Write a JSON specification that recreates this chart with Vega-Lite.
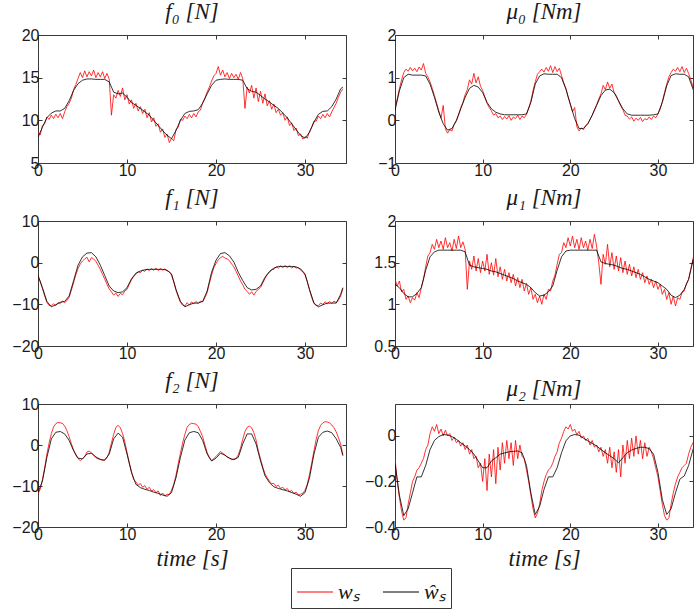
{
"$schema": "https://vega.github.io/schema/vega-lite/v6.json",
"background": "white",
"padding": {"left": 11, "top": 0, "right": 0, "bottom": 0},
"datasets": {
"red": [
{"t":0,"f0":8.6,"m0":0.28,"f1":-3.2,"m1":1.3,"f2":-11.9,"m2":-0.1},
{"t":0.25,"f0":8.3,"m0":0.5,"f1":-4.6,"m1":1.22,"f2":-10.8,"m2":-0.2},
{"t":0.5,"f0":9.4,"m0":0.74,"f1":-6.2,"m1":1.28,"f2":-8.4,"m2":-0.27},
{"t":0.75,"f0":9.6,"m0":0.95,"f1":-8.0,"m1":1.15,"f2":-5.6,"m2":-0.33},
{"t":1,"f0":10.4,"m0":1.12,"f1":-9.5,"m1":1.18,"f2":-2.2,"m2":-0.37},
{"t":1.25,"f0":10.1,"m0":1.2,"f1":-10.3,"m1":1.06,"f2":0.5,"m2":-0.36},
{"t":1.5,"f0":10.6,"m0":1.15,"f1":-10.3,"m1":1.1,"f2":2.8,"m2":-0.3},
{"t":1.75,"f0":10.2,"m0":1.24,"f1":-9.9,"m1":1.02,"f2":4.4,"m2":-0.25},
{"t":2,"f0":10.7,"m0":1.16,"f1":-10.3,"m1":1.08,"f2":5.2,"m2":-0.2},
{"t":2.25,"f0":10.3,"m0":1.22,"f1":-9.6,"m1":1.05,"f2":5.5,"m2":-0.18},
{"t":2.5,"f0":10.8,"m0":1.14,"f1":-9.8,"m1":1.14,"f2":5.4,"m2":-0.15},
{"t":2.75,"f0":10.2,"m0":1.25,"f1":-9.2,"m1":1.08,"f2":5.3,"m2":-0.14},
{"t":3,"f0":11.0,"m0":1.18,"f1":-9.6,"m1":1.2,"f2":4.6,"m2":-0.12},
{"t":3.25,"f0":11.6,"m0":1.33,"f1":-9.1,"m1":1.3,"f2":3.5,"m2":-0.1},
{"t":3.5,"f0":12.0,"m0":1.1,"f1":-8.3,"m1":1.45,"f2":2.0,"m2":-0.06},
{"t":3.75,"f0":12.6,"m0":1.02,"f1":-6.6,"m1":1.58,"f2":0.3,"m2":-0.04},
{"t":4,"f0":13.6,"m0":0.9,"f1":-4.8,"m1":1.62,"f2":-1.2,"m2":0.01},
{"t":4.25,"f0":14.2,"m0":0.75,"f1":-2.9,"m1":1.72,"f2":-2.5,"m2":0.04},
{"t":4.5,"f0":14.9,"m0":0.58,"f1":-1.4,"m1":1.66,"f2":-3.3,"m2":0.02},
{"t":4.75,"f0":15.6,"m0":0.4,"f1":-0.3,"m1":1.78,"f2":-3.8,"m2":0.05},
{"t":5,"f0":15.0,"m0":0.22,"f1":0.4,"m1":1.68,"f2":-3.3,"m2":0.01},
{"t":5.25,"f0":15.8,"m0":0.05,"f1":0.9,"m1":1.76,"f2":-2.8,"m2":0.03},
{"t":5.5,"f0":15.1,"m0":0.35,"f1":1.3,"m1":1.66,"f2":-1.7,"m2":0.0},
{"t":5.75,"f0":15.7,"m0":-0.2,"f1":0.2,"m1":1.8,"f2":-1.5,"m2":0.025},
{"t":6,"f0":15.2,"m0":-0.3,"f1":1.2,"m1":1.68,"f2":-1.9,"m2":0.0},
{"t":6.25,"f0":15.9,"m0":-0.22,"f1":0.9,"m1":1.74,"f2":-2.5,"m2":0.01},
{"t":6.5,"f0":15.0,"m0":-0.25,"f1":0.3,"m1":1.64,"f2":-3.1,"m2":-0.02},
{"t":6.75,"f0":15.6,"m0":-0.1,"f1":-0.6,"m1":1.78,"f2":-3.4,"m2":-0.005},
{"t":7,"f0":15.1,"m0":-0.02,"f1":-1.6,"m1":1.67,"f2":-3.5,"m2":-0.03},
{"t":7.25,"f0":15.7,"m0":0.12,"f1":-2.8,"m1":1.82,"f2":-3.8,"m2":-0.02},
{"t":7.5,"f0":14.9,"m0":0.3,"f1":-4.0,"m1":1.68,"f2":-3.6,"m2":-0.045},
{"t":7.75,"f0":15.5,"m0":0.42,"f1":-5.2,"m1":1.75,"f2":-3.1,"m2":-0.03},
{"t":8,"f0":14.8,"m0":0.6,"f1":-6.3,"m1":1.66,"f2":-1.8,"m2":-0.06},
{"t":8.25,"f0":10.6,"m0":0.72,"f1":-7.0,"m1":1.18,"f2":0.5,"m2":-0.04},
{"t":8.5,"f0":13.0,"m0":0.95,"f1":-7.8,"m1":1.52,"f2":2.6,"m2":-0.08},
{"t":8.75,"f0":12.6,"m0":0.85,"f1":-7.3,"m1":1.42,"f2":4.3,"m2":-0.06},
{"t":9,"f0":13.5,"m0":1.1,"f1":-8.1,"m1":1.58,"f2":4.8,"m2":-0.1},
{"t":9.25,"f0":12.8,"m0":0.88,"f1":-7.4,"m1":1.4,"f2":4.2,"m2":-0.09},
{"t":9.5,"f0":13.8,"m0":1.02,"f1":-7.7,"m1":1.55,"f2":2.8,"m2":-0.14},
{"t":9.75,"f0":12.4,"m0":0.8,"f1":-6.8,"m1":1.38,"f2":0.8,"m2":-0.12},
{"t":10,"f0":13.0,"m0":0.7,"f1":-6.4,"m1":1.52,"f2":-1.8,"m2":-0.2},
{"t":10.25,"f0":11.9,"m0":0.55,"f1":-5.2,"m1":1.4,"f2":-4.3,"m2":-0.1},
{"t":10.5,"f0":12.4,"m0":0.4,"f1":-4.1,"m1":1.6,"f2":-6.4,"m2":-0.24},
{"t":10.75,"f0":11.4,"m0":0.3,"f1":-3.3,"m1":1.36,"f2":-8.4,"m2":-0.08},
{"t":11,"f0":12.0,"m0":0.22,"f1":-2.8,"m1":1.5,"f2":-9.0,"m2":-0.18},
{"t":11.25,"f0":11.1,"m0":0.12,"f1":-2.2,"m1":1.35,"f2":-9.8,"m2":-0.06},
{"t":11.5,"f0":11.6,"m0":0.16,"f1":-2.4,"m1":1.55,"f2":-9.4,"m2":-0.21},
{"t":11.75,"f0":10.8,"m0":0.06,"f1":-1.8,"m1":1.33,"f2":-10.3,"m2":-0.05},
{"t":12,"f0":11.3,"m0":0.1,"f1":-2.1,"m1":1.45,"f2":-9.9,"m2":-0.15},
{"t":12.25,"f0":10.3,"m0":0.02,"f1":-1.5,"m1":1.3,"f2":-10.8,"m2":-0.03},
{"t":12.5,"f0":10.9,"m0":0.09,"f1":-1.9,"m1":1.42,"f2":-10.3,"m2":-0.12},
{"t":12.75,"f0":9.8,"m0":0.03,"f1":-1.4,"m1":1.28,"f2":-11.2,"m2":-0.02},
{"t":13,"f0":10.3,"m0":0.11,"f1":-1.8,"m1":1.38,"f2":-10.9,"m2":-0.1},
{"t":13.25,"f0":9.3,"m0":0.0,"f1":-1.3,"m1":1.26,"f2":-11.6,"m2":-0.03},
{"t":13.5,"f0":9.6,"m0":0.08,"f1":-1.9,"m1":1.36,"f2":-11.2,"m2":-0.13},
{"t":13.75,"f0":8.6,"m0":0.04,"f1":-1.4,"m1":1.22,"f2":-12.3,"m2":-0.02},
{"t":14,"f0":9.0,"m0":0.12,"f1":-1.8,"m1":1.32,"f2":-11.7,"m2":-0.1},
{"t":14.25,"f0":8.0,"m0":0.02,"f1":-1.5,"m1":1.2,"f2":-12.4,"m2":-0.04},
{"t":14.5,"f0":8.4,"m0":0.1,"f1":-2.0,"m1":1.3,"f2":-12.0,"m2":-0.09},
{"t":14.75,"f0":7.4,"m0":0.06,"f1":-2.2,"m1":1.16,"f2":-12.1,"m2":-0.1},
{"t":15,"f0":7.9,"m0":0.14,"f1":-3.0,"m1":1.25,"f2":-11.0,"m2":-0.15},
{"t":15.25,"f0":7.6,"m0":0.28,"f1":-4.6,"m1":1.12,"f2":-9.6,"m2":-0.2},
{"t":15.5,"f0":8.9,"m0":0.45,"f1":-6.6,"m1":1.2,"f2":-7.4,"m2":-0.26},
{"t":15.75,"f0":9.2,"m0":0.7,"f1":-8.2,"m1":1.06,"f2":-4.6,"m2":-0.32},
{"t":16,"f0":10.1,"m0":0.9,"f1":-9.5,"m1":1.12,"f2":-2.0,"m2":-0.36},
{"t":16.25,"f0":10.0,"m0":1.08,"f1":-10.2,"m1":1.02,"f2":0.5,"m2":-0.34},
{"t":16.5,"f0":10.5,"m0":1.14,"f1":-10.4,"m1":1.1,"f2":2.6,"m2":-0.3},
{"t":16.75,"f0":10.2,"m0":1.2,"f1":-9.6,"m1":1.0,"f2":4.3,"m2":-0.24},
{"t":17,"f0":10.7,"m0":1.13,"f1":-10.2,"m1":1.12,"f2":5.0,"m2":-0.2},
{"t":17.25,"f0":10.3,"m0":1.24,"f1":-9.4,"m1":1.06,"f2":5.3,"m2":-0.17},
{"t":17.5,"f0":10.8,"m0":1.15,"f1":-9.9,"m1":1.18,"f2":5.2,"m2":-0.15},
{"t":17.75,"f0":10.4,"m0":1.28,"f1":-9.3,"m1":1.16,"f2":5.1,"m2":-0.14},
{"t":18,"f0":11.0,"m0":1.12,"f1":-9.8,"m1":1.28,"f2":4.5,"m2":-0.12},
{"t":18.25,"f0":11.2,"m0":1.26,"f1":-9.2,"m1":1.35,"f2":3.3,"m2":-0.09},
{"t":18.5,"f0":12.1,"m0":1.14,"f1":-9.4,"m1":1.48,"f2":2.0,"m2":-0.07},
{"t":18.75,"f0":12.6,"m0":1.22,"f1":-8.4,"m1":1.6,"f2":0.0,"m2":-0.03},
{"t":19,"f0":13.3,"m0":1.05,"f1":-7.2,"m1":1.62,"f2":-1.8,"m2":-0.01},
{"t":19.25,"f0":13.9,"m0":0.88,"f1":-5.0,"m1":1.74,"f2":-3.1,"m2":0.02},
{"t":19.5,"f0":14.6,"m0":0.75,"f1":-3.0,"m1":1.68,"f2":-3.8,"m2":0.04},
{"t":19.75,"f0":15.2,"m0":0.55,"f1":-1.2,"m1":1.8,"f2":-3.3,"m2":0.03},
{"t":20,"f0":15.5,"m0":0.38,"f1":-0.2,"m1":1.7,"f2":-2.8,"m2":0.05},
{"t":20.25,"f0":16.3,"m0":0.2,"f1":0.7,"m1":1.82,"f2":-2.2,"m2":0.02},
{"t":20.5,"f0":15.3,"m0":0.3,"f1":1.2,"m1":1.68,"f2":-1.6,"m2":0.03},
{"t":20.75,"f0":15.9,"m0":-0.15,"f1":1.5,"m1":1.78,"f2":-2.0,"m2":0.005},
{"t":21,"f0":15.1,"m0":-0.25,"f1":1.1,"m1":1.66,"f2":-2.4,"m2":0.02},
{"t":21.25,"f0":15.6,"m0":-0.18,"f1":0.9,"m1":1.8,"f2":-3.0,"m2":-0.01},
{"t":21.5,"f0":14.9,"m0":-0.22,"f1":0.5,"m1":1.68,"f2":-3.2,"m2":0.0},
{"t":21.75,"f0":15.5,"m0":-0.12,"f1":-0.3,"m1":1.76,"f2":-3.6,"m2":-0.02},
{"t":22,"f0":15.0,"m0":-0.08,"f1":-1.0,"m1":1.65,"f2":-3.4,"m2":-0.01},
{"t":22.25,"f0":15.4,"m0":0.02,"f1":-2.1,"m1":1.78,"f2":-3.3,"m2":-0.04},
{"t":22.5,"f0":14.8,"m0":0.12,"f1":-3.2,"m1":1.67,"f2":-2.4,"m2":-0.02},
{"t":22.75,"f0":15.6,"m0":0.25,"f1":-4.4,"m1":1.84,"f2":-0.8,"m2":-0.05},
{"t":23,"f0":14.9,"m0":0.36,"f1":-5.3,"m1":1.7,"f2":1.4,"m2":-0.04},
{"t":23.25,"f0":11.4,"m0":0.5,"f1":-6.4,"m1":1.5,"f2":3.3,"m2":-0.07},
{"t":23.5,"f0":13.9,"m0":0.62,"f1":-6.9,"m1":1.24,"f2":4.3,"m2":-0.05},
{"t":23.75,"f0":13.2,"m0":0.82,"f1":-7.6,"m1":1.6,"f2":4.6,"m2":-0.09},
{"t":24,"f0":14.1,"m0":0.72,"f1":-7.0,"m1":1.48,"f2":4.2,"m2":-0.06},
{"t":24.25,"f0":12.6,"m0":0.9,"f1":-7.8,"m1":1.72,"f2":3.0,"m2":-0.12},
{"t":24.5,"f0":13.8,"m0":0.75,"f1":-6.9,"m1":1.45,"f2":1.2,"m2":-0.05},
{"t":24.75,"f0":12.2,"m0":0.85,"f1":-6.4,"m1":1.62,"f2":-1.4,"m2":-0.14},
{"t":25,"f0":13.4,"m0":0.65,"f1":-5.9,"m1":1.42,"f2":-3.4,"m2":-0.07},
{"t":25.25,"f0":12.0,"m0":0.58,"f1":-4.9,"m1":1.58,"f2":-5.4,"m2":-0.16},
{"t":25.5,"f0":13.1,"m0":0.45,"f1":-3.8,"m1":1.4,"f2":-7.0,"m2":-0.06},
{"t":25.75,"f0":11.7,"m0":0.34,"f1":-2.9,"m1":1.56,"f2":-8.0,"m2":-0.18},
{"t":26,"f0":12.3,"m0":0.25,"f1":-2.4,"m1":1.38,"f2":-8.8,"m2":-0.04},
{"t":26.25,"f0":11.3,"m0":0.12,"f1":-1.7,"m1":1.52,"f2":-9.4,"m2":-0.12},
{"t":26.5,"f0":11.9,"m0":0.1,"f1":-1.6,"m1":1.36,"f2":-9.4,"m2":-0.02},
{"t":26.75,"f0":10.9,"m0":0.03,"f1":-1.0,"m1":1.48,"f2":-10.1,"m2":-0.1},
{"t":27,"f0":11.3,"m0":0.08,"f1":-1.3,"m1":1.34,"f2":-9.8,"m2":-0.01},
{"t":27.25,"f0":10.6,"m0":-0.02,"f1":-0.8,"m1":1.45,"f2":-10.6,"m2":-0.09},
{"t":27.5,"f0":10.9,"m0":0.05,"f1":-1.2,"m1":1.32,"f2":-10.3,"m2":0.0},
{"t":27.75,"f0":10.0,"m0":0.0,"f1":-0.7,"m1":1.42,"f2":-11.0,"m2":-0.08},
{"t":28,"f0":10.4,"m0":0.07,"f1":-1.2,"m1":1.3,"f2":-10.6,"m2":-0.02},
{"t":28.25,"f0":9.4,"m0":-0.03,"f1":-0.8,"m1":1.38,"f2":-11.4,"m2":-0.1},
{"t":28.5,"f0":9.7,"m0":0.04,"f1":-1.3,"m1":1.26,"f2":-11.1,"m2":-0.03},
{"t":28.75,"f0":8.8,"m0":0.01,"f1":-0.9,"m1":1.34,"f2":-11.8,"m2":-0.09},
{"t":29,"f0":9.1,"m0":0.08,"f1":-1.3,"m1":1.24,"f2":-11.5,"m2":-0.05},
{"t":29.25,"f0":8.2,"m0":0.02,"f1":-1.2,"m1":1.3,"f2":-12.2,"m2":-0.07},
{"t":29.5,"f0":8.4,"m0":0.1,"f1":-1.8,"m1":1.2,"f2":-12.0,"m2":-0.1},
{"t":29.75,"f0":7.8,"m0":0.06,"f1":-2.2,"m1":1.28,"f2":-11.8,"m2":-0.14},
{"t":30,"f0":8.1,"m0":0.15,"f1":-3.0,"m1":1.18,"f2":-11.0,"m2":-0.18},
{"t":30.25,"f0":7.9,"m0":0.26,"f1":-4.6,"m1":1.24,"f2":-9.6,"m2":-0.24},
{"t":30.5,"f0":8.7,"m0":0.44,"f1":-6.6,"m1":1.12,"f2":-7.2,"m2":-0.3},
{"t":30.75,"f0":9.2,"m0":0.65,"f1":-8.4,"m1":1.18,"f2":-4.4,"m2":-0.35},
{"t":31,"f0":9.9,"m0":0.85,"f1":-9.8,"m1":1.06,"f2":-1.4,"m2":-0.37},
{"t":31.25,"f0":9.9,"m0":1.02,"f1":-10.3,"m1":1.14,"f2":1.4,"m2":-0.36},
{"t":31.5,"f0":10.5,"m0":1.12,"f1":-10.3,"m1":1.0,"f2":3.5,"m2":-0.3},
{"t":31.75,"f0":10.2,"m0":1.2,"f1":-9.7,"m1":1.1,"f2":4.8,"m2":-0.25},
{"t":32,"f0":10.7,"m0":1.15,"f1":-10.0,"m1":0.98,"f2":5.4,"m2":-0.21},
{"t":32.25,"f0":10.3,"m0":1.24,"f1":-9.4,"m1":1.08,"f2":5.7,"m2":-0.18},
{"t":32.5,"f0":10.8,"m0":1.14,"f1":-9.9,"m1":1.06,"f2":5.6,"m2":-0.16},
{"t":32.75,"f0":10.4,"m0":1.26,"f1":-9.3,"m1":1.14,"f2":5.4,"m2":-0.14},
{"t":33,"f0":11.0,"m0":1.12,"f1":-9.8,"m1":1.16,"f2":4.9,"m2":-0.13},
{"t":33.25,"f0":11.5,"m0":1.22,"f1":-9.2,"m1":1.25,"f2":4.2,"m2":-0.12},
{"t":33.5,"f0":12.0,"m0":1.1,"f1":-9.6,"m1":1.3,"f2":3.2,"m2":-0.08},
{"t":33.75,"f0":12.7,"m0":0.95,"f1":-9.0,"m1":1.42,"f2":1.8,"m2":-0.05},
{"t":34,"f0":13.3,"m0":0.78,"f1":-8.0,"m1":1.55,"f2":0.2,"m2":-0.03},
{"t":34.25,"f0":13.7,"m0":0.65,"f1":-6.2,"m1":1.62,"f2":-2.4,"m2":-0.01}
],
"blk": [
{"t":0,"f0":8.0,"m0":0.23,"f1":-3.0,"m1":1.24,"f2":-11.6,"m2":-0.12},
{"t":0.5,"f0":9.2,"m0":0.69,"f1":-6.0,"m1":1.2,"f2":-8.8,"m2":-0.26},
{"t":1,"f0":10.3,"m0":1.0,"f1":-9.3,"m1":1.13,"f2":-3.0,"m2":-0.35},
{"t":1.5,"f0":10.85,"m0":1.08,"f1":-10.6,"m1":1.09,"f2":1.5,"m2":-0.32},
{"t":2,"f0":11.1,"m0":1.06,"f1":-10.1,"m1":1.09,"f2":3.1,"m2":-0.25},
{"t":2.5,"f0":11.1,"m0":1.06,"f1":-9.5,"m1":1.13,"f2":3.3,"m2":-0.18},
{"t":3,"f0":11.4,"m0":1.06,"f1":-9.3,"m1":1.2,"f2":2.7,"m2":-0.18},
{"t":3.5,"f0":12.3,"m0":1.04,"f1":-8.0,"m1":1.41,"f2":1.1,"m2":-0.13},
{"t":4,"f0":13.5,"m0":0.85,"f1":-4.3,"m1":1.57,"f2":-1.4,"m2":-0.06},
{"t":4.5,"f0":14.3,"m0":0.54,"f1":-0.6,"m1":1.63,"f2":-3.2,"m2":-0.02},
{"t":5,"f0":14.7,"m0":0.19,"f1":1.4,"m1":1.65,"f2":-3.4,"m2":-0.003},
{"t":5.5,"f0":14.85,"m0":-0.08,"f1":2.3,"m1":1.65,"f2":-2.2,"m2":0.006},
{"t":6,"f0":14.85,"m0":-0.23,"f1":2.4,"m1":1.65,"f2":-2.0,"m2":0.004},
{"t":6.5,"f0":14.8,"m0":-0.19,"f1":1.4,"m1":1.65,"f2":-2.9,"m2":-0.003},
{"t":7,"f0":14.8,"m0":0.0,"f1":-0.6,"m1":1.65,"f2":-3.5,"m2":-0.015},
{"t":7.5,"f0":14.8,"m0":0.27,"f1":-3.1,"m1":1.65,"f2":-3.7,"m2":-0.03},
{"t":8,"f0":14.5,"m0":0.54,"f1":-5.6,"m1":1.63,"f2":-2.2,"m2":-0.044},
{"t":8.5,"f0":13.3,"m0":0.75,"f1":-6.8,"m1":1.47,"f2":1.5,"m2":-0.06},
{"t":9,"f0":13.1,"m0":0.82,"f1":-7.2,"m1":1.45,"f2":2.9,"m2":-0.08},
{"t":9.5,"f0":13.2,"m0":0.78,"f1":-7.0,"m1":1.44,"f2":1.9,"m2":-0.11},
{"t":10,"f0":12.7,"m0":0.65,"f1":-6.0,"m1":1.43,"f2":-2.2,"m2":-0.14},
{"t":10.5,"f0":12.1,"m0":0.42,"f1":-3.9,"m1":1.42,"f2":-6.7,"m2":-0.14},
{"t":11,"f0":11.75,"m0":0.27,"f1":-2.5,"m1":1.4,"f2":-9.6,"m2":-0.11},
{"t":11.5,"f0":11.4,"m0":0.19,"f1":-2.0,"m1":1.39,"f2":-10.4,"m2":-0.096},
{"t":12,"f0":11.0,"m0":0.15,"f1":-1.7,"m1":1.37,"f2":-10.8,"m2":-0.08},
{"t":12.5,"f0":10.6,"m0":0.13,"f1":-1.6,"m1":1.35,"f2":-11.1,"m2":-0.075},
{"t":13,"f0":10.0,"m0":0.13,"f1":-1.6,"m1":1.33,"f2":-11.5,"m2":-0.07},
{"t":13.5,"f0":9.4,"m0":0.13,"f1":-1.6,"m1":1.31,"f2":-11.8,"m2":-0.068},
{"t":14,"f0":8.8,"m0":0.13,"f1":-1.6,"m1":1.28,"f2":-12.2,"m2":-0.066},
{"t":14.5,"f0":8.25,"m0":0.13,"f1":-1.8,"m1":1.26,"f2":-12.5,"m2":-0.074},
{"t":15,"f0":7.85,"m0":0.15,"f1":-2.7,"m1":1.24,"f2":-11.6,"m2":-0.13},
{"t":15.5,"f0":8.8,"m0":0.42,"f1":-6.4,"m1":1.2,"f2":-8.0,"m2":-0.25},
{"t":16,"f0":10.0,"m0":0.85,"f1":-9.3,"m1":1.14,"f2":-3.0,"m2":-0.345},
{"t":16.5,"f0":10.8,"m0":1.04,"f1":-10.6,"m1":1.1,"f2":1.2,"m2":-0.31},
{"t":17,"f0":11.05,"m0":1.09,"f1":-10.1,"m1":1.11,"f2":3.0,"m2":-0.235},
{"t":17.5,"f0":11.1,"m0":1.08,"f1":-9.7,"m1":1.15,"f2":3.3,"m2":-0.18},
{"t":18,"f0":11.25,"m0":1.08,"f1":-9.7,"m1":1.22,"f2":3.0,"m2":-0.18},
{"t":18.5,"f0":12.0,"m0":1.08,"f1":-9.3,"m1":1.41,"f2":1.1,"m2":-0.14},
{"t":19,"f0":13.1,"m0":1.0,"f1":-6.8,"m1":1.57,"f2":-2.2,"m2":-0.074},
{"t":19.5,"f0":14.1,"m0":0.73,"f1":-2.3,"m1":1.64,"f2":-3.9,"m2":-0.022},
{"t":20,"f0":14.7,"m0":0.38,"f1":0.6,"m1":1.65,"f2":-3.2,"m2":0.0},
{"t":20.5,"f0":14.8,"m0":0.04,"f1":2.2,"m1":1.65,"f2":-2.0,"m2":0.006},
{"t":21,"f0":14.85,"m0":-0.19,"f1":2.4,"m1":1.65,"f2":-2.5,"m2":0.003},
{"t":21.5,"f0":14.8,"m0":-0.19,"f1":1.65,"m1":1.65,"f2":-3.2,"m2":-0.01},
{"t":22,"f0":14.8,"m0":-0.08,"f1":0.15,"m1":1.65,"f2":-3.6,"m2":-0.022},
{"t":22.5,"f0":14.8,"m0":0.12,"f1":-2.3,"m1":1.65,"f2":-3.0,"m2":-0.033},
{"t":23,"f0":14.7,"m0":0.35,"f1":-4.3,"m1":1.65,"f2":0.25,"m2":-0.044},
{"t":23.5,"f0":13.7,"m0":0.58,"f1":-6.0,"m1":1.51,"f2":2.7,"m2":-0.06},
{"t":24,"f0":13.4,"m0":0.71,"f1":-6.55,"m1":1.49,"f2":2.7,"m2":-0.074},
{"t":24.5,"f0":13.3,"m0":0.73,"f1":-6.4,"m1":1.48,"f2":0.25,"m2":-0.087},
{"t":25,"f0":12.9,"m0":0.65,"f1":-5.6,"m1":1.47,"f2":-3.9,"m2":-0.1},
{"t":25.5,"f0":12.5,"m0":0.46,"f1":-3.5,"m1":1.45,"f2":-7.5,"m2":-0.118},
{"t":26,"f0":12.15,"m0":0.27,"f1":-2.1,"m1":1.43,"f2":-9.2,"m2":-0.096},
{"t":26.5,"f0":11.75,"m0":0.15,"f1":-1.3,"m1":1.42,"f2":-10.2,"m2":-0.074},
{"t":27,"f0":11.4,"m0":0.12,"f1":-0.9,"m1":1.4,"f2":-10.6,"m2":-0.062},
{"t":27.5,"f0":10.85,"m0":0.12,"f1":-0.9,"m1":1.38,"f2":-10.9,"m2":-0.055},
{"t":28,"f0":10.3,"m0":0.12,"f1":-0.9,"m1":1.36,"f2":-11.2,"m2":-0.05},
{"t":28.5,"f0":9.6,"m0":0.12,"f1":-0.9,"m1":1.33,"f2":-11.6,"m2":-0.05},
{"t":29,"f0":8.9,"m0":0.12,"f1":-1.0,"m1":1.3,"f2":-12.0,"m2":-0.056},
{"t":29.5,"f0":8.25,"m0":0.13,"f1":-1.5,"m1":1.28,"f2":-12.5,"m2":-0.08},
{"t":30,"f0":7.9,"m0":0.15,"f1":-2.7,"m1":1.26,"f2":-11.6,"m2":-0.16},
{"t":30.5,"f0":8.6,"m0":0.42,"f1":-6.4,"m1":1.22,"f2":-8.0,"m2":-0.28},
{"t":31,"f0":9.8,"m0":0.81,"f1":-9.7,"m1":1.18,"f2":-2.2,"m2":-0.345},
{"t":31.5,"f0":10.7,"m0":1.05,"f1":-10.6,"m1":1.11,"f2":1.9,"m2":-0.32},
{"t":32,"f0":11.05,"m0":1.09,"f1":-10.1,"m1":1.08,"f2":3.1,"m2":-0.25},
{"t":32.5,"f0":11.1,"m0":1.08,"f1":-9.7,"m1":1.11,"f2":3.4,"m2":-0.19},
{"t":33,"f0":11.6,"m0":1.08,"f1":-9.7,"m1":1.18,"f2":3.0,"m2":-0.176},
{"t":33.5,"f0":12.5,"m0":1.02,"f1":-9.7,"m1":1.3,"f2":1.5,"m2":-0.13},
{"t":34,"f0":13.7,"m0":0.73,"f1":-7.6,"m1":1.53,"f2":-0.6,"m2":-0.06},
{"t":34.25,"f0":13.9,"m0":0.6,"f1":-6.0,"m1":1.6,"f2":-2.6,"m2":-0.03}
]
},
"config": {
  "view": {"stroke": "#3a3a3a", "strokeWidth": 1},
  "axis": {"domain": false, "grid": false, "tickSize": -4, "tickColor": "#3a3a3a", "labelFont": "Liberation Sans", "labelFontSize": 16, "labelColor": "#1a1a1a", "labelFlush": false, "labelPadding": 3, "titleFont": "Liberation Serif", "titleFontStyle": "italic", "titleFontWeight": "normal", "titleFontSize": 23, "titleColor": "#1a1a1a", "titlePadding": 5},
  "title": {"font": "Liberation Serif", "fontStyle": "italic", "fontSize": 23, "fontWeight": "normal", "offset": 3, "color": "#1a1a1a"},
  "legend": {"orient": "none", "legendX": 253, "legendY": 533, "direction": "horizontal", "strokeColor": "#3a3a3a", "padding": 5, "title": null, "labelFont": "Liberation Serif", "labelFontStyle": "italic", "labelFontSize": 22, "labelColor": "#1a1a1a", "symbolType": "stroke", "symbolSize": 1300, "symbolStrokeWidth": 1, "columnPadding": 20, "labelOffset": 4}
},
"columns": 2,
"spacing": {"row": 58, "column": 49},
"bounds": "flush",
"align": "each",
"concat": [
 {"width": 308, "height": 128, "title": "f₀ [N]",
  "layer": [
   {"data": {"name": "red"}, "mark": {"type": "line", "strokeWidth": 0.8, "clip": true},
    "encoding": {"x": {"field": "t", "type": "quantitative", "scale": {"domain": [0, 34.6], "nice": false, "zero": false}, "axis": {"orient": "bottom", "values": [0, 10, 20, 30], "title": null}},
     "y": {"field": "f0", "type": "quantitative", "scale": {"domain": [5, 20], "nice": false, "zero": false}, "axis": {"orient": "left", "values": [5, 10, 15, 20], "title": null}},
     "color": {"datum": "wₛ", "type": "nominal", "scale": {"domain": ["wₛ", "ŵₛ"], "range": ["#ff0000", "#000000"]}, "title": null}}},
   {"data": {"name": "blk"}, "mark": {"type": "line", "strokeWidth": 0.8, "clip": true},
    "encoding": {"x": {"field": "t", "type": "quantitative", "scale": {"domain": [0, 34.6], "nice": false, "zero": false}, "axis": {"orient": "top", "values": [0, 10, 20, 30], "labels": false, "title": null}},
     "y": {"field": "f0", "type": "quantitative", "scale": {"domain": [5, 20], "nice": false, "zero": false}, "axis": {"orient": "right", "values": [5, 10, 15, 20], "labels": false, "title": null}},
     "color": {"datum": "ŵₛ", "type": "nominal"}}}
  ],
  "resolve": {"scale": {"x": "independent", "y": "independent"}, "axis": {"x": "independent", "y": "independent"}}},
 {"width": 298, "height": 128, "title": "μ₀ [Nm]",
  "layer": [
   {"data": {"name": "red"}, "mark": {"type": "line", "strokeWidth": 0.8, "clip": true},
    "encoding": {"x": {"field": "t", "type": "quantitative", "scale": {"domain": [0, 34], "nice": false, "zero": false}, "axis": {"orient": "bottom", "values": [0, 10, 20, 30], "title": null}},
     "y": {"field": "m0", "type": "quantitative", "scale": {"domain": [-1, 2], "nice": false, "zero": false}, "axis": {"orient": "left", "values": [-1, 0, 1, 2], "title": null}},
     "color": {"datum": "wₛ", "type": "nominal"}}},
   {"data": {"name": "blk"}, "mark": {"type": "line", "strokeWidth": 0.8, "clip": true},
    "encoding": {"x": {"field": "t", "type": "quantitative", "scale": {"domain": [0, 34], "nice": false, "zero": false}, "axis": {"orient": "top", "values": [0, 10, 20, 30], "labels": false, "title": null}},
     "y": {"field": "m0", "type": "quantitative", "scale": {"domain": [-1, 2], "nice": false, "zero": false}, "axis": {"orient": "right", "values": [-1, 0, 1, 2], "labels": false, "title": null}},
     "color": {"datum": "ŵₛ", "type": "nominal"}}}
  ],
  "resolve": {"scale": {"x": "independent", "y": "independent"}, "axis": {"x": "independent", "y": "independent"}}},
 {"width": 308, "height": 125, "title": "f₁ [N]",
  "layer": [
   {"data": {"name": "red"}, "mark": {"type": "line", "strokeWidth": 0.8, "clip": true},
    "encoding": {"x": {"field": "t", "type": "quantitative", "scale": {"domain": [0, 34.6], "nice": false, "zero": false}, "axis": {"orient": "bottom", "values": [0, 10, 20, 30], "title": null}},
     "y": {"field": "f1", "type": "quantitative", "scale": {"domain": [-20, 10], "nice": false, "zero": false}, "axis": {"orient": "left", "values": [-20, -10, 0, 10], "title": null}},
     "color": {"datum": "wₛ", "type": "nominal"}}},
   {"data": {"name": "blk"}, "mark": {"type": "line", "strokeWidth": 0.8, "clip": true},
    "encoding": {"x": {"field": "t", "type": "quantitative", "scale": {"domain": [0, 34.6], "nice": false, "zero": false}, "axis": {"orient": "top", "values": [0, 10, 20, 30], "labels": false, "title": null}},
     "y": {"field": "f1", "type": "quantitative", "scale": {"domain": [-20, 10], "nice": false, "zero": false}, "axis": {"orient": "right", "values": [-20, -10, 0, 10], "labels": false, "title": null}},
     "color": {"datum": "ŵₛ", "type": "nominal"}}}
  ],
  "resolve": {"scale": {"x": "independent", "y": "independent"}, "axis": {"x": "independent", "y": "independent"}}},
 {"width": 298, "height": 125, "title": "μ₁ [Nm]",
  "layer": [
   {"data": {"name": "red"}, "mark": {"type": "line", "strokeWidth": 0.8, "clip": true},
    "encoding": {"x": {"field": "t", "type": "quantitative", "scale": {"domain": [0, 34], "nice": false, "zero": false}, "axis": {"orient": "bottom", "values": [0, 10, 20, 30], "title": null}},
     "y": {"field": "m1", "type": "quantitative", "scale": {"domain": [0.5, 2], "nice": false, "zero": false}, "axis": {"orient": "left", "values": [0.5, 1, 1.5, 2], "format": "~g", "title": null}},
     "color": {"datum": "wₛ", "type": "nominal"}}},
   {"data": {"name": "blk"}, "mark": {"type": "line", "strokeWidth": 0.8, "clip": true},
    "encoding": {"x": {"field": "t", "type": "quantitative", "scale": {"domain": [0, 34], "nice": false, "zero": false}, "axis": {"orient": "top", "values": [0, 10, 20, 30], "labels": false, "title": null}},
     "y": {"field": "m1", "type": "quantitative", "scale": {"domain": [0.5, 2], "nice": false, "zero": false}, "axis": {"orient": "right", "values": [0.5, 1, 1.5, 2], "labels": false, "title": null}},
     "color": {"datum": "ŵₛ", "type": "nominal"}}}
  ],
  "resolve": {"scale": {"x": "independent", "y": "independent"}, "axis": {"x": "independent", "y": "independent"}}},
 {"width": 308, "height": 123, "title": "f₂ [N]",
  "layer": [
   {"data": {"name": "red"}, "mark": {"type": "line", "strokeWidth": 0.8, "clip": true},
    "encoding": {"x": {"field": "t", "type": "quantitative", "scale": {"domain": [0, 34.6], "nice": false, "zero": false}, "axis": {"orient": "bottom", "values": [0, 10, 20, 30], "title": "time [s]"}},
     "y": {"field": "f2", "type": "quantitative", "scale": {"domain": [-20, 10], "nice": false, "zero": false}, "axis": {"orient": "left", "values": [-20, -10, 0, 10], "title": null}},
     "color": {"datum": "wₛ", "type": "nominal"}}},
   {"data": {"name": "blk"}, "mark": {"type": "line", "strokeWidth": 0.8, "clip": true},
    "encoding": {"x": {"field": "t", "type": "quantitative", "scale": {"domain": [0, 34.6], "nice": false, "zero": false}, "axis": {"orient": "top", "values": [0, 10, 20, 30], "labels": false, "title": null}},
     "y": {"field": "f2", "type": "quantitative", "scale": {"domain": [-20, 10], "nice": false, "zero": false}, "axis": {"orient": "right", "values": [-20, -10, 0, 10], "labels": false, "title": null}},
     "color": {"datum": "ŵₛ", "type": "nominal"}}}
  ],
  "resolve": {"scale": {"x": "independent", "y": "independent"}, "axis": {"x": "independent", "y": "independent"}}},
 {"width": 298, "height": 123, "title": "μ₂ [Nm]",
  "layer": [
   {"data": {"name": "red"}, "mark": {"type": "line", "strokeWidth": 0.8, "clip": true},
    "encoding": {"x": {"field": "t", "type": "quantitative", "scale": {"domain": [0, 34], "nice": false, "zero": false}, "axis": {"orient": "bottom", "values": [0, 10, 20, 30], "title": "time [s]"}},
     "y": {"field": "m2", "type": "quantitative", "scale": {"domain": [-0.4, 0.14], "nice": false, "zero": false}, "axis": {"orient": "left", "values": [-0.4, -0.2, 0], "format": "~g", "title": null}},
     "color": {"datum": "wₛ", "type": "nominal"}}},
   {"data": {"name": "blk"}, "mark": {"type": "line", "strokeWidth": 0.8, "clip": true},
    "encoding": {"x": {"field": "t", "type": "quantitative", "scale": {"domain": [0, 34], "nice": false, "zero": false}, "axis": {"orient": "top", "values": [0, 10, 20, 30], "labels": false, "title": null}},
     "y": {"field": "m2", "type": "quantitative", "scale": {"domain": [-0.4, 0.14], "nice": false, "zero": false}, "axis": {"orient": "right", "values": [-0.4, -0.2, 0], "labels": false, "title": null}},
     "color": {"datum": "ŵₛ", "type": "nominal"}}}
  ],
  "resolve": {"scale": {"x": "independent", "y": "independent"}, "axis": {"x": "independent", "y": "independent"}}}
]
}
